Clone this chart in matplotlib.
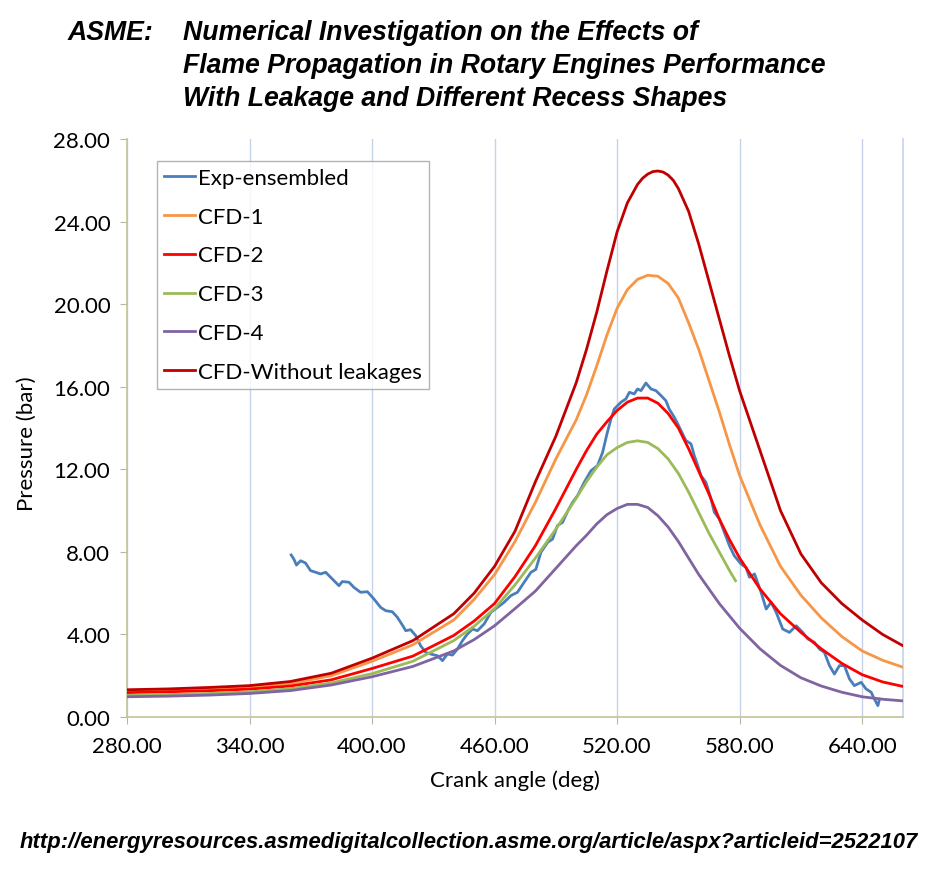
import numpy as np
import matplotlib
matplotlib.use("Agg")
import matplotlib.pyplot as plt
from matplotlib.ticker import FormatStrFormatter

# ------------------------
# Data
# ------------------------
exp_angle = [360.4, 361.7, 363.0, 365.0, 367.4, 369.9, 372.4, 374.8, 377.3, 380.5,
             383.8, 385.4, 388.7, 391.1, 394.4, 397.7, 400.9, 404.2, 406.7, 409.9,
             412.4, 414.8, 416.5, 418.9, 421.4, 423.8, 426.3, 428.7, 432.0, 434.5,
             436.9, 439.4, 441.8, 444.3, 446.7, 449.2, 451.6, 454.9, 458.2, 461.4,
             464.7, 468.0, 471.2, 474.5, 477.8, 480.2, 482.7, 486.0, 488.4, 490.8,
             493.3, 495.7, 498.2, 500.6, 503.9, 507.2, 510.4, 512.9, 515.0, 517.0,
             518.6, 521.9, 524.3, 526.0, 528.4, 530.0, 531.7, 534.1, 536.6, 539.0,
             541.5, 543.9, 545.5, 548.0, 549.7, 551.3, 553.7, 556.2, 557.8, 559.5,
             561.1, 563.5, 566.0, 567.6, 570.1, 572.5, 575.0, 577.4, 580.7, 583.1,
             584.8, 587.3, 590.5, 593.0, 595.4, 597.9, 601.1, 604.4, 607.7, 610.9,
             613.4, 616.6, 619.1, 621.5, 624.0, 626.4, 628.9, 631.3, 633.8, 636.2,
             639.5, 641.9, 644.4, 646.0, 647.7, 648.5]
exp_p = [7.85, 7.65, 7.36, 7.57, 7.46, 7.09, 7.01, 6.93, 7.01, 6.69,
         6.36, 6.56, 6.53, 6.28, 6.04, 6.07, 5.72, 5.31, 5.15, 5.10,
         4.83, 4.46, 4.18, 4.23, 3.94, 3.45, 3.13, 3.05, 2.97, 2.73,
         3.05, 3.00, 3.29, 3.70, 4.02, 4.26, 4.18, 4.51, 5.07, 5.31,
         5.56, 5.88, 6.04, 6.53, 7.01, 7.15, 7.98, 8.46, 8.62, 9.27,
         9.43, 9.95, 10.40, 10.72, 11.37, 11.93, 12.18, 12.82, 13.70, 14.44,
         14.92, 15.25, 15.41, 15.73, 15.65, 15.89, 15.81, 16.18, 15.89, 15.81,
         15.57, 15.32, 14.92, 14.52, 14.20, 13.87, 13.39, 13.23, 12.66, 12.18,
         11.69, 11.37, 10.56, 9.92, 9.59, 8.95, 8.30, 7.81, 7.41, 7.25,
         6.77, 6.93, 6.04, 5.23, 5.56, 5.07, 4.26, 4.10, 4.42, 4.10,
         3.78, 3.62, 3.29, 3.13, 2.49, 2.08, 2.49, 2.49, 1.84, 1.52,
         1.68, 1.36, 1.20, 0.87, 0.55, 0.87]

cfd_angle = [280, 300, 320, 340, 360, 380, 400, 420, 440, 450, 460, 470, 480, 490,
             500, 505, 510, 515, 520, 525, 530, 535, 540, 545, 550, 555, 560, 565,
             570, 575, 580, 590, 600, 610, 620, 630, 640, 650, 660]

cfd1 = [1.25, 1.30, 1.36, 1.45, 1.62, 2.00, 2.70, 3.50, 4.70, 5.70, 6.90, 8.50, 10.4, 12.5,
        14.4, 15.6, 17.0, 18.5, 19.8, 20.7, 21.2, 21.4, 21.35, 21.0, 20.3, 19.1, 17.8, 16.3,
        14.8, 13.2, 11.7, 9.3, 7.3, 5.9, 4.8, 3.9, 3.2, 2.75, 2.41]

cfd2 = [1.18, 1.22, 1.27, 1.35, 1.50, 1.80, 2.35, 2.95, 3.95, 4.65, 5.50, 6.80, 8.30, 10.1,
        12.0, 12.9, 13.7, 14.3, 14.85, 15.25, 15.45, 15.45, 15.2, 14.7, 14.0, 13.0, 11.9, 10.8,
        9.6, 8.6, 7.7, 6.2, 5.0, 4.1, 3.3, 2.6, 2.05, 1.7, 1.48]

cfd3_angle = [280, 300, 320, 340, 360, 380, 400, 420, 440, 450, 460, 470, 480, 490,
              500, 505, 510, 515, 520, 525, 530, 535, 540, 545, 550, 555, 560, 565,
              570, 575, 578]
cfd3 = [1.05, 1.09, 1.14, 1.22, 1.37, 1.65, 2.10, 2.70, 3.70, 4.40, 5.25, 6.40, 7.70, 9.10,
        10.6, 11.4, 12.1, 12.7, 13.05, 13.3, 13.38, 13.3, 13.0, 12.5, 11.8, 10.9, 9.9, 8.9,
        8.0, 7.1, 6.6]

cfd4 = [0.98, 1.01, 1.06, 1.14, 1.28, 1.55, 1.95, 2.45, 3.20, 3.75, 4.42, 5.25, 6.10, 7.20,
        8.30, 8.80, 9.35, 9.80, 10.1, 10.3, 10.3, 10.15, 9.75, 9.2, 8.5, 7.7, 6.9, 6.2,
        5.5, 4.9, 4.3, 3.3, 2.5, 1.9, 1.5, 1.2, 0.98, 0.86, 0.78]

# the tallest curve is read a little closer around its peak
no_leak_angle = [280, 300, 320, 340, 360, 380, 400, 420, 440, 450, 460, 470, 480, 490,
                 500, 505, 510, 515, 520, 525, 530, 532.5, 535, 537.5, 540, 542.5, 545,
                 547.5, 550, 555, 560, 565, 570, 575, 580, 590, 600, 610, 620, 630, 640,
                 650, 660]
no_leak = [1.32, 1.36, 1.43, 1.52, 1.72, 2.12, 2.85, 3.70, 5.00, 6.00, 7.30, 9.00, 11.4, 13.6,
           16.2, 17.8, 19.6, 21.6, 23.5, 24.9, 25.8, 26.1, 26.3, 26.42, 26.45, 26.4, 26.25,
           26.0, 25.6, 24.5, 22.9, 21.1, 19.3, 17.5, 15.8, 12.9, 10.0, 7.9, 6.5, 5.5, 4.7,
           4.0, 3.45]

# ------------------------
# Plot
# ------------------------
fig = plt.figure(figsize=(9.36, 8.7), dpi=100)
ax = fig.add_axes([127 / 936, 1 - 718 / 870, 776 / 936, 578 / 870])

lw = 2.0
ax.plot(exp_angle, exp_p, color="#4a7ebb", lw=lw, label="Exp-ensembled", zorder=3)
ax.plot(cfd_angle, cfd1, color="#f79646", lw=lw, label="CFD-1", zorder=4)
ax.plot(cfd_angle, cfd2, color="#ff0000", lw=lw, label="CFD-2", zorder=5)
ax.plot(cfd3_angle, cfd3, color="#9bbb59", lw=lw, label="CFD-3", zorder=6)
ax.plot(cfd_angle, cfd4, color="#8064a2", lw=lw, label="CFD-4", zorder=7)
ax.plot(no_leak_angle, no_leak, color="#c00000", lw=lw, label="CFD-Without leakages", zorder=8)

ax.set_xlim(280, 660)
ax.set_ylim(0, 28)
ax.set_xticks(np.arange(280, 641, 60))
ax.set_yticks(np.arange(0, 29, 4))
ax.xaxis.set_major_formatter(FormatStrFormatter("%.2f"))
ax.yaxis.set_major_formatter(FormatStrFormatter("%.2f"))
ax.grid(axis="x", color="#c6d2ec", lw=1.0)
ax.set_axisbelow(True)

label_font = "Lato"
for lbl in ax.get_xticklabels() + ax.get_yticklabels():
    lbl.set_fontfamily(label_font)
    lbl.set_fontsize(16)
ax.tick_params(axis="both", direction="out", length=5, color="#b8b8a0")
ax.tick_params(axis="x", pad=9)
ax.tick_params(axis="y", pad=7)

ax.spines["top"].set_visible(False)
ax.spines["right"].set_color("#c6d2ec")
ax.spines["left"].set_color("#c4c49a")
ax.spines["bottom"].set_color("#c4c49a")
for s in ["left", "bottom", "right"]:
    ax.spines[s].set_linewidth(1.2)

ax.set_xlabel("Crank angle (deg)", fontfamily=label_font, fontsize=16, labelpad=9)
ax.set_ylabel("Pressure (bar)", fontfamily=label_font, fontsize=16)
ax.yaxis.set_label_coords(-90 / 776, (718 - 444) / 578)

leg = ax.legend(loc="upper left", bbox_to_anchor=(30 / 776, (718 - 162) / 578),
                borderaxespad=0, fancybox=False, edgecolor="#a0a0a0",
                prop={"family": label_font, "size": 16},
                handlelength=1.4, handletextpad=0.15, labelspacing=0.85, borderpad=0.3)
leg.get_frame().set_linewidth(1.0)

# ------------------------
# Title and source
# ------------------------
title_font = dict(family=["Liberation Sans", "DejaVu Sans"], style="italic",
                  weight="bold", fontsize=19.2)
fig.text(68 / 936, 1 - 33 / 870, "ASME:", ha="left", va="center", **title_font)
fig.text(183 / 936, 1 - 33 / 870, "Numerical Investigation on the Effects of",
         ha="left", va="center", **title_font)
fig.text(183 / 936, 1 - 66 / 870, "Flame Propagation in Rotary Engines Performance",
         ha="left", va="center", **title_font)
fig.text(183 / 936, 1 - 99 / 870, "With Leakage and Different Recess Shapes",
         ha="left", va="center", **title_font)

url_font = dict(title_font)
url_font["fontsize"] = 15.8
fig.text(20 / 936, 1 - 843 / 870,
         "http://energyresources.asmedigitalcollection.asme.org/article/aspx?articleid=2522107",
         ha="left", va="center", **url_font)

fig.savefig("out.png", dpi=100)
